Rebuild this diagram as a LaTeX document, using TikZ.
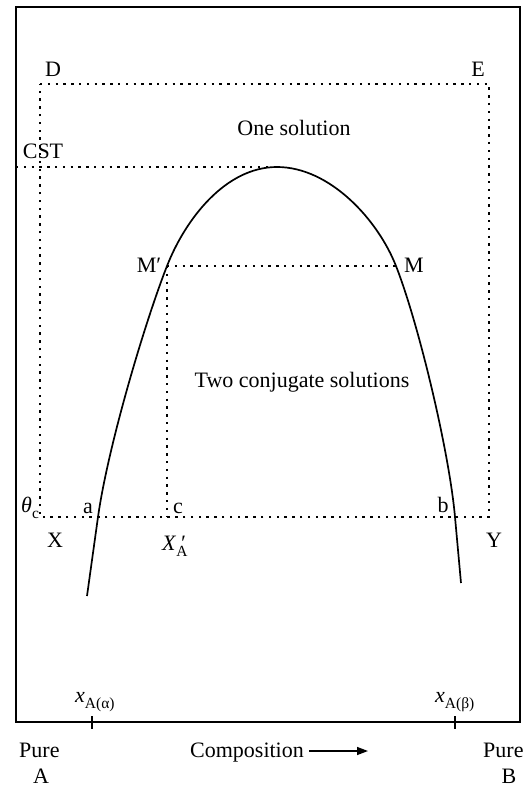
\documentclass[tikz,border=0pt]{standalone}
\usepackage{fontspec}
\setmainfont{Liberation Serif}
\usetikzlibrary{arrows.meta}
\newcommand\mysub[1]{\raisebox{-0.3em}{\fontsize{15.5}{16}\selectfont #1}}
\begin{document}
\begin{tikzpicture}[x=1pt,y=-1pt,
  lbl/.style={inner sep=0pt, anchor=base, font=\fontsize{22}{26}\selectfont},
  dotline/.style={line width=2pt, dash pattern=on 2.4pt off 5.4pt},
  framebox/.style={line width=1.5pt},
  curveline/.style={line width=1.7pt}]
\useasboundingbox (0,0) rectangle (524,787);
% frame
\coordinate (F1) at (16,7);
\coordinate (F2) at (520,722);
\draw[framebox] (F1) rectangle (F2);
% dotted rectangle D-E-Y-X
\coordinate (Dc) at (40,84);
\coordinate (Ec) at (489,84);
\coordinate (Yc) at (489,517);
\coordinate (Xc) at (40,517);
\draw[dotline] (Dc) -- (Ec) -- (Yc) -- (Xc) -- cycle;
% key points
\coordinate (cstL) at (16,167);
\coordinate (P) at (277,167);
\coordinate (Pd) at (270,167);
\coordinate (Mp) at (167,266);
\coordinate (Mr) at (396,266);
\coordinate (Cc) at (167,517);
\coordinate (aC) at (98,517);
\coordinate (bC) at (455,517);
\coordinate (endL) at (87,596);
\coordinate (endR) at (461,583);
\draw[dotline] (cstL) -- (Pd);
\draw[dotline] (Mp) -- (Mr);
\draw[dotline] (Mp) -- (Cc);
% binodal curve
\draw[curveline] (endL) -- (aC)
   .. controls (108,446) and (145,322) .. (Mp)
   .. controls (185,220) and (225,167) .. (P)
   .. controls (330,167) and (378,220) .. (Mr)
   .. controls (418,322) and (449,450) .. (bC)
   -- (endR);
% ticks
\coordinate (t1a) at (92,716); \coordinate (t1b) at (92,729);
\coordinate (t2a) at (455,716); \coordinate (t2b) at (455,729);
\draw[line width=1.3pt] (t1a) -- (t1b);
\draw[line width=1.3pt] (t2a) -- (t2b);
% labels
\node[lbl] (D) at (53,76) {D};
\node[lbl] (E) at (478,76) {E};
\node[lbl] (one) at (294,135) {One solution};
\node[lbl] (cst) at (43,158) {CST};
\node[lbl] (Mpl) at (149,272) {M′};
\node[lbl] (Ml) at (414,272) {M};
\node[lbl] (two) at (302,387) {Two conjugate solutions};
\node[lbl, anchor=base west] (theta) at (21,512) {\textit{θ}\mysub{c}};
\node[lbl] (al) at (88,513) {a};
\node[lbl] (cl) at (178,513) {c};
\node[lbl] (bl) at (443,512) {b};
\node[lbl] (Xl) at (55,547) {X};
\node[lbl] (Yl) at (494,547) {Y};
\node[lbl, anchor=base west] (XA) at (162,550) {\textit{X}\rlap{\,\textit{′}}\mysub{A}};
\node[lbl, anchor=base west] (xa) at (75,702) {\textit{x}\mysub{A(α)}};
\node[lbl, anchor=base west] (xb) at (435,702) {\textit{x}\mysub{A(β)}};
\node[lbl, anchor=base west] (pa) at (19,757) {Pure};
\node[lbl] (A) at (41,783) {A};
\node[lbl, anchor=base west] (pb) at (483,757) {Pure};
\node[lbl] (B) at (509,783) {B};
\node[lbl] (comp) at (247,757) {Composition};
\coordinate (ar1) at (309,751);
\coordinate (ar2) at (368,751);
\draw[line width=1.4pt, -{Triangle[length=11pt,width=8pt]}] (ar1) -- (ar2);
\end{tikzpicture}
\end{document}
